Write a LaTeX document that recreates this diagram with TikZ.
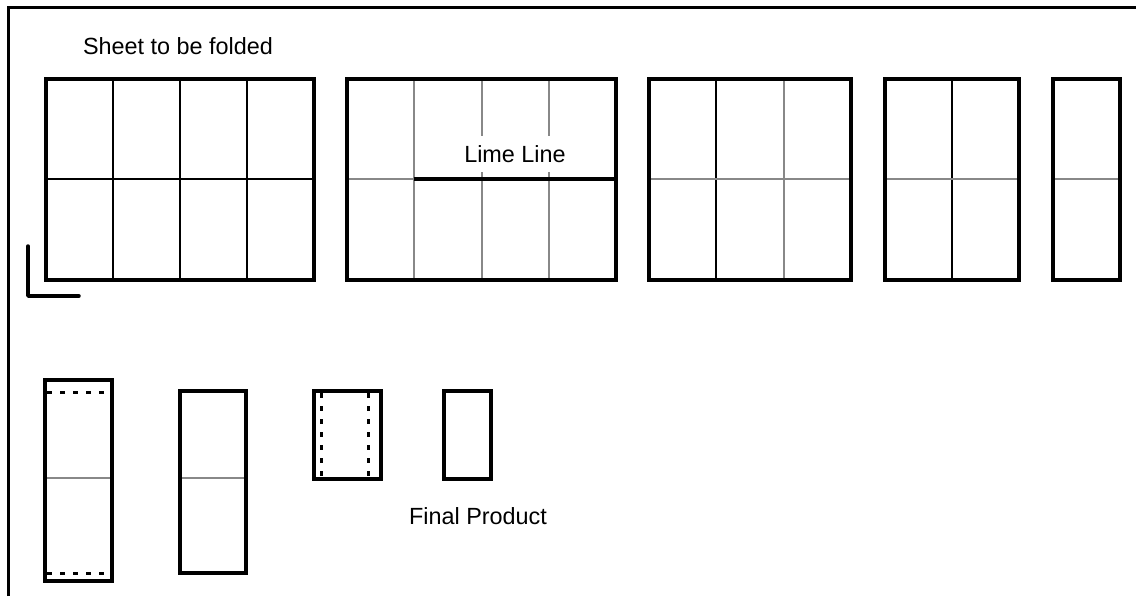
\documentclass[tikz,border=0pt]{standalone}
\usepackage{fontspec}
\setmainfont{Liberation Sans}
\usepackage{tikz}
\usetikzlibrary{positioning}

\definecolor{foldgray}{RGB}{136,136,136}

\begin{document}
\begin{tikzpicture}[
    x=0.5pt, y=-0.5pt,
    every node/.style={font=\fontsize{11.7}{14}\selectfont},
    sheetbox/.style={draw, line width=2pt},
    creaseblack/.style={draw, line width=1pt},
    creasegray/.style={draw=foldgray, line width=1pt},
    flapline/.style={draw, line width=1.5pt, dash pattern=on 2.25pt off 4.25pt},
    frameline/.style={line width=1.5pt},
    cornermark/.style={line width=1.75pt, line cap=round, line join=round}
]
\useasboundingbox (0,0) rectangle (1136,596);

% Frame
\draw[frameline] (8,596) -- (8,7) -- (1136,7);

% Labels
\node (title) at (178,46) {Sheet to be folded};
\node (final) at (478,516) {Final Product};

% Sheet 1: full grid
\foreach \x in {112.6,179.8,246.9}
    \draw[creaseblack] (\x,79) -- (\x,280);
\draw[creaseblack] (46,179) -- (314,179);
\draw[sheetbox] (46,79) rectangle (314,280);
\draw[cornermark] (28,246) -- (28,296) -- (79,296);

% Sheet 2: creases grey, cut along lime line
\foreach \x in {414.3,481.5,548.8}
    \draw[creasegray] (\x,79) -- (\x,280);
\draw[creasegray] (347,179) -- (616,179);
\draw[line width=2pt] (414.3,179) -- (616,179);
\node[fill=white, inner sep=4.5pt] (lime) at (515,154) {Lime Line};
\draw[sheetbox] (347,79) rectangle (616,280);

% Sheet 3
\draw[creaseblack] (716.3,79) -- (716.3,280);
\draw[creasegray] (783.7,79) -- (783.7,280);
\draw[creasegray] (649,179) -- (851,179);
\draw[sheetbox] (649,79) rectangle (851,280);

% Sheet 4
\draw[creaseblack] (952,79) -- (952,280);
\draw[creasegray] (885,179) -- (1019,179);
\draw[sheetbox] (885,79) rectangle (1019,280);

% Sheet 5
\draw[creasegray] (1053,179) -- (1120,179);
\draw[sheetbox] (1053,79) rectangle (1120,280);

% Bottom row
\draw[creasegray] (45,478) -- (112,478);
\draw[flapline] (47,392) -- (104,392);
\draw[flapline] (47,573) -- (104,573);
\draw[sheetbox] (45,380) rectangle (112,581);

\draw[creasegray] (180,478) -- (246,478);
\draw[sheetbox] (180,391) rectangle (246,573);

\draw[flapline] (321,393) -- (321,479);
\draw[flapline] (368,393) -- (368,479);
\draw[sheetbox] (314,391) rectangle (381,479);

\draw[sheetbox] (444,391) rectangle (491,479);
\end{tikzpicture}
\end{document}
